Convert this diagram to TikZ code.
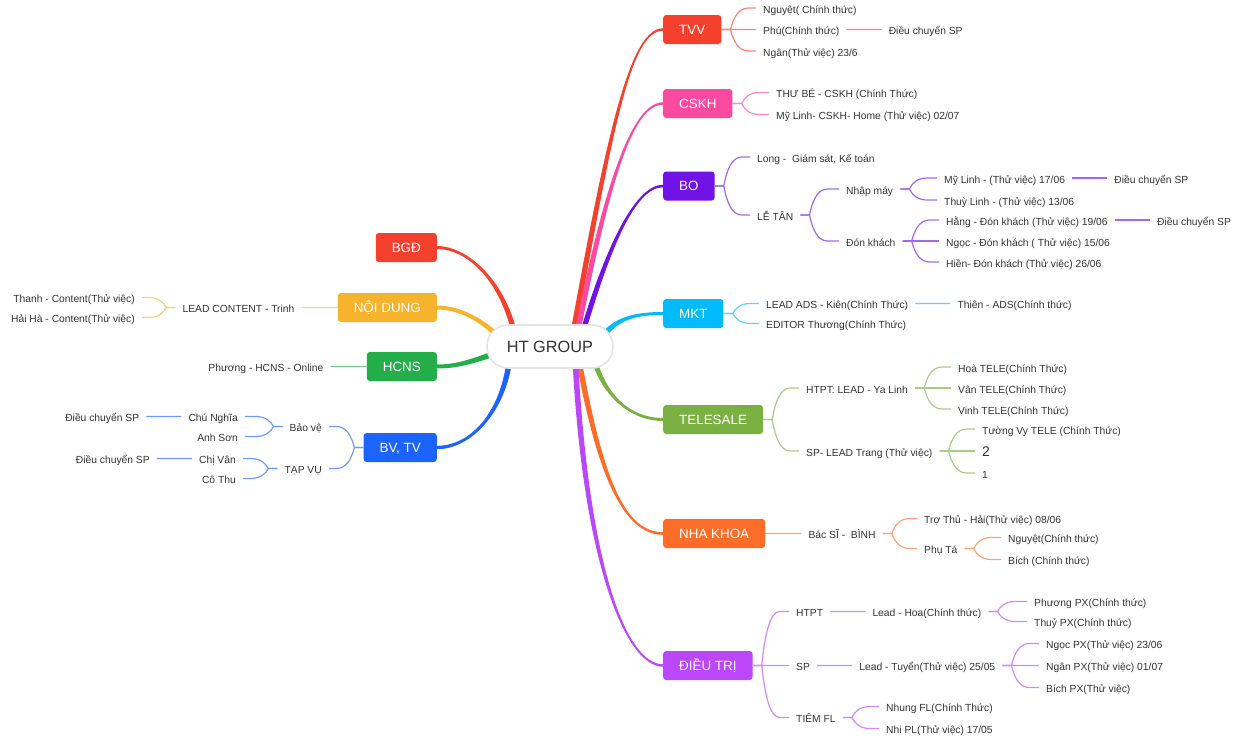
\documentclass[tikz,border=0pt]{standalone}
\usepackage{fontspec}
\setmainfont{Liberation Sans}
\usetikzlibrary{calc,positioning,backgrounds}
\definecolor{inkC} {HTML}{333333}
\definecolor{hubC} {HTML}{E4E4E4}
\definecolor{tvvC} {HTML}{F6402E}
\definecolor{cskhC}{HTML}{FC4AA0}
\definecolor{boC}  {HTML}{7113E6}
\definecolor{mktC} {HTML}{00BBFE}
\definecolor{teleC}{HTML}{7BB043}
\definecolor{nhaC} {HTML}{FD6D28}
\definecolor{dtC}  {HTML}{BB46FA}
\definecolor{bgdC} {HTML}{F6402E}
\definecolor{ndC}  {HTML}{F7B32C}
\definecolor{hcC}  {HTML}{24AE4A}
\definecolor{bvC}  {HTML}{1D63FF}
\tikzset{
  hubNode/.style={fill=white,draw=hubC,line width=1.6pt,rounded corners=21pt,
                  minimum width=126pt,minimum height=43pt,inner sep=0pt,
                  text height=11.7pt,text depth=0pt,
                  font=\fontsize{16.3}{18}\selectfont,text=inkC},
  headBox/.style={fill=#1,rounded corners=3pt,minimum height=29pt,
                  inner xsep=16pt,inner ysep=0pt,text height=9.6pt,text depth=0pt,
                  font=\fontsize{13.4}{15}\selectfont,text=white},
  leaf/.style={inner xsep=7pt,inner ysep=0pt,text height=10pt,text depth=0pt,
               font=\fontsize{10.3}{12}\selectfont,text=inkC},
  twigLine/.style={draw=#1!64,line width=1.2pt},
}
% tapered main branch: colour, start, start control, end control, end,
% half-width vector at start, half-width at end
\newcommand{\trunk}[7]{%
  \fill[#1] ($(#2)+(#6)$) .. controls ($(#2)+(#3)+(#6)$) and ($(#5)+(#4)+(0,-#7)$) .. ($(#5)+(0,-#7)$)
    -- ($(#5)+(0,#7)$) .. controls ($(#5)+(#4)+(0,#7)$) and ($(#2)+(#3)-(#6)$) .. ($(#2)-(#6)$) -- cycle;
}
% sub-branch growing right / left: colour, parent, child
\newcommand{\twig}[3]{%
  \path ([xshift=9pt]#2.east) coordinate (tf) ([xshift=27pt]#2.east) coordinate (tg);
  \draw[twigLine=#1] (#2.east) -- (tf)
    .. controls ($(tf)!.55!(tf |- #3.west)+(3,0)$) and ($(tg |- #3.west)+(-10,0)$) .. (tg |- #3.west)
    -- (#3.west);
}
\newcommand{\twigL}[3]{%
  \path ([xshift=-9pt]#2.west) coordinate (tf) ([xshift=-27pt]#2.west) coordinate (tg);
  \draw[twigLine=#1] (#2.west) -- (tf)
    .. controls ($(tf)!.55!(tf |- #3.east)+(-3,0)$) and ($(tg |- #3.east)+(10,0)$) .. (tg |- #3.east)
    -- (#3.east);
}

\begin{document}
\begin{tikzpicture}[x=1pt,y=-1pt]
\useasboundingbox (0,0) rectangle (1240,736);

% Centre and first-level boxes.
\node[hubNode] (hub) at (550,346.5) {HT GROUP};

\node[headBox=tvvC,anchor=west]  (tvv)  at (663,29.5)  {TVV};
\node[headBox=cskhC,anchor=west] (cskh) at (663,103.5) {CSKH};
\node[headBox=boC,anchor=west]   (bo)   at (663,186)   {BO};
\node[headBox=mktC,anchor=west]  (mkt)  at (663,313.5) {MKT};
\node[headBox=teleC,anchor=west] (tele) at (663,419.5) {TELESALE};
\node[headBox=nhaC,anchor=west]  (nha)  at (663,533.5) {NHA KHOA};
\node[headBox=dtC,anchor=west]   (dt)   at (663,665.5) {ĐIỀU TRỊ};

\node[headBox=bgdC,anchor=east] (bgd) at (437,247.5) {BGĐ};
\node[headBox=ndC,anchor=east]  (nd)  at (437,307.5) {NỘI DUNG};
\node[headBox=hcC,anchor=east]  (hc)  at (437,366.5) {HCNS};
\node[headBox=bvC,anchor=east]  (bv)  at (437,447.5) {BV, TV};

% Start points of the main branches, hidden under the centre.
\coordinate (sTvv)  at (571,345);
\coordinate (sCskh) at (575,345);
\coordinate (sBo)   at (579,345);
\coordinate (sMkt)  at (600,340);
\coordinate (sTele) at (592,352);
\coordinate (sNha)  at (578,355);
\coordinate (sDt)   at (575,355);
\coordinate (sBgd)  at (516,340);
\coordinate (sNd)   at (505,345);
\coordinate (sHc)   at (500,352);
\coordinate (sBv)   at (510,355);

\begin{scope}[on background layer]
  \trunk{tvvC} {sTvv} {39,-215}{-33,0}{tvv.west} {-2.8,0}{1.2}
  \trunk{cskhC}{sCskh}{30,-155}{-32,0}{cskh.west}{-2.8,0}{1.2}
  \trunk{boC}  {sBo}  {28,-97} {-28,0}{bo.west}  {-2.8,0}{1.3}
  \trunk{mktC} {sMkt} {15,-22} {-28,0}{mkt.west} {-2.4,-1.5}{1.5}
  \trunk{teleC}{sTele}{10,43}  {-33,0}{tele.west}{2.8,0}{1.5}
  \trunk{nhaC} {sNha} {22,125} {-38,0}{nha.west} {2.8,0}{1.3}
  \trunk{dtC}  {sDt}  {10,205} {-38,0}{dt.west}  {2.8,0}{1.2}
  \trunk{bgdC} {sBgd} {-12,-60}{30,0} {bgd.east} {2.8,0}{1.5}
  \trunk{ndC}  {sNd}  {-10,-15}{30,0} {nd.east}  {2.3,-1.6}{2}
  \trunk{hcC}  {sHc}  {-20,6}  {25,0} {hc.east}  {-0.8,-2.7}{2}
  \trunk{bvC}  {sBv}  {-5,55}  {35,0} {bv.east}  {-2.8,0}{1.7}
\end{scope}

% TVV
\node[leaf,anchor=west] (tvv1) at (756,8)    {Nguyệt( Chính thức)};
\node[leaf,anchor=west] (tvv2) at (756,29.5) {Phú(Chính thức)};
\node[leaf,anchor=west] (tvv3) at (756,51)   {Ngân(Thử việc) 23/6};
\node[leaf,right=35pt of tvv2] (tvv2a) {Điều chuyển SP};

% CSKH
\node[leaf,anchor=west] (cskh1) at (769,92.5)  {THƯ BÉ - CSKH (Chính Thức)};
\node[leaf,anchor=west] (cskh2) at (769,114.5) {Mỹ Linh- CSKH- Home (Thử việc) 02/07};

% BO
\node[leaf,anchor=west] (bo1)   at (750,157) {Long -\ \ Giám sát, Kế toán};
\node[leaf,anchor=west] (bo2)   at (750,215) {LỄ TÂN};
\node[leaf,anchor=west] (bo21)  at (839,189) {Nhập máy};
\node[leaf,anchor=west] (bo22)  at (839,241) {Đón khách};
\node[leaf,anchor=west] (bo211) at (937,178) {Mỹ Linh - (Thử việc) 17/06};
\node[leaf,anchor=west] (bo212) at (937,200) {Thuỳ Linh - (Thử việc) 13/06};
\node[leaf,anchor=west] (bo221) at (939,220) {Hằng - Đón khách (Thử việc) 19/06};
\node[leaf,anchor=west] (bo222) at (939,241) {Ngọc - Đón khách ( Thử việc) 15/06};
\node[leaf,anchor=west] (bo223) at (939,262) {Hiền- Đón khách (Thử việc) 26/06};
\node[leaf,right=35pt of bo211] (bo211a) {Điều chuyển SP};
\node[leaf,right=35pt of bo221] (bo221a) {Điều chuyển SP};

% MKT
\node[leaf,anchor=west] (mkt1) at (759,303.5) {LEAD ADS - Kiên(Chính Thức)};
\node[leaf,anchor=west] (mkt2) at (759,323.5) {EDITOR Thương(Chính Thức)};
\node[leaf,right=35pt of mkt1] (mkt1a) {Thiên - ADS(Chính thức)};

% TELESALE
\node[leaf,anchor=west] (tele1)  at (799,388) {HTPT: LEAD - Ya Linh};
\node[leaf,anchor=west] (tele2)  at (799,451) {SP- LEAD Trang (Thử việc)};
\node[leaf,anchor=west] (tele11) at (951,367) {Hoà TELE(Chính Thức)};
\node[leaf,anchor=west] (tele12) at (951,388) {Vân TELE(Chính Thức)};
\node[leaf,anchor=west] (tele13) at (951,409) {Vinh TELE(Chính Thức)};
\node[leaf,anchor=west] (tele21) at (975,429) {Tường Vy TELE (Chính Thức)};
\node[leaf,anchor=west] (tele22) at (975,451) {\fontsize{14}{16}\selectfont 2};
\node[leaf,anchor=west] (tele23) at (975,473) {1};

% NHA KHOA
\node[leaf,right=36pt of nha] (nha1) {Bác SĨ -\ \ BÌNH};
\node[leaf,anchor=west] (nha11)  at (917,518.5)  {Trợ Thủ - Hải(Thử việc) 08/06};
\node[leaf,anchor=west] (nha12)  at (917,548.5)  {Phụ Tá};
\node[leaf,anchor=west] (nha121) at (1001,537.5) {Nguyệt(Chính thức)};
\node[leaf,anchor=west] (nha122) at (1001,559.5) {Bích (Chính thức)};

% ĐIỀU TRỊ
\node[leaf,anchor=west] (dt1) at (789,611.5) {HTPT};
\node[leaf,anchor=west] (dt2) at (789,665.5) {SP};
\node[leaf,anchor=west] (dt3) at (789,717.5) {TIÊM FL};
\node[leaf,right=35pt of dt1] (dt1a) {Lead - Hoa(Chính thức)};
\node[leaf,right=35pt of dt2] (dt2a) {Lead - Tuyển(Thử việc) 25/05};
\node[leaf,anchor=west] (dt1a1) at (1027,601.5) {Phương PX(Chính thức)};
\node[leaf,anchor=west] (dt1a2) at (1027,621.5) {Thuỷ PX(Chính thức)};
\node[leaf,anchor=west] (dt2a1) at (1039,643.5) {Ngọc PX(Thử việc) 23/06};
\node[leaf,anchor=west] (dt2a2) at (1039,665.5) {Ngân PX(Thử việc) 01/07};
\node[leaf,anchor=west] (dt2a3) at (1039,687.5) {Bích PX(Thử việc)};
\node[leaf,anchor=west] (dt31)  at (879,706.5)  {Nhung FL(Chính Thức)};
\node[leaf,anchor=west] (dt32)  at (879,728.5)  {Nhi PL(Thử việc) 17/05};

% Left side
\node[leaf,left=36pt of nd] (nd1) {LEAD CONTENT - Trinh};
\node[leaf,anchor=east] (nd11) at (142,297.5) {Thanh - Content(Thử việc)};
\node[leaf,anchor=east] (nd12) at (142,317.5) {Hải Hà - Content(Thử việc)};
\node[leaf,left=36pt of hc] (hc1) {Phương - HCNS - Online};
\node[leaf,anchor=east] (bv1)  at (329,426.5) {Bảo vệ};
\node[leaf,anchor=east] (bv2)  at (329,468.5) {TẠP VỤ};
\node[leaf,anchor=east] (bv11) at (245,416.5) {Chú Nghĩa};
\node[leaf,anchor=east] (bv12) at (245,436.5) {Anh Sơn};
\node[leaf,anchor=east] (bv21) at (243,458.5) {Chị Vân};
\node[leaf,anchor=east] (bv22) at (243,478.5) {Cô Thu};
\node[leaf,left=35pt of bv11] (bv11a) {Điều chuyển SP};
\node[leaf,left=35pt of bv21] (bv21a) {Điều chuyển SP};

% Sub-branch connectors.
\foreach \c in {tvv1,tvv2,tvv3} {\twig{tvvC}{tvv}{\c}}
\twig{tvvC}{tvv2}{tvv2a}
\foreach \c in {cskh1,cskh2} {\twig{cskhC}{cskh}{\c}}
\foreach \c in {bo1,bo2} {\twig{boC}{bo}{\c}}
\foreach \c in {bo21,bo22} {\twig{boC}{bo2}{\c}}
\foreach \c in {bo211,bo212} {\twig{boC}{bo21}{\c}}
\foreach \c in {bo221,bo222,bo223} {\twig{boC}{bo22}{\c}}
\twig{boC}{bo211}{bo211a}
\twig{boC}{bo221}{bo221a}
\foreach \c in {mkt1,mkt2} {\twig{mktC}{mkt}{\c}}
\twig{mktC}{mkt1}{mkt1a}
\foreach \c in {tele1,tele2} {\twig{teleC}{tele}{\c}}
\foreach \c in {tele11,tele12,tele13} {\twig{teleC}{tele1}{\c}}
\foreach \c in {tele21,tele22,tele23} {\twig{teleC}{tele2}{\c}}
\twig{nhaC}{nha}{nha1}
\foreach \c in {nha11,nha12} {\twig{nhaC}{nha1}{\c}}
\foreach \c in {nha121,nha122} {\twig{nhaC}{nha12}{\c}}
\foreach \c in {dt1,dt2,dt3} {\twig{dtC}{dt}{\c}}
\twig{dtC}{dt1}{dt1a}
\twig{dtC}{dt2}{dt2a}
\foreach \c in {dt1a1,dt1a2} {\twig{dtC}{dt1a}{\c}}
\foreach \c in {dt2a1,dt2a2,dt2a3} {\twig{dtC}{dt2a}{\c}}
\foreach \c in {dt31,dt32} {\twig{dtC}{dt3}{\c}}

\twigL{ndC}{nd}{nd1}
\foreach \c in {nd11,nd12} {\twigL{ndC}{nd1}{\c}}
\twigL{hcC}{hc}{hc1}
\foreach \c in {bv1,bv2} {\twigL{bvC}{bv}{\c}}
\foreach \c in {bv11,bv12} {\twigL{bvC}{bv1}{\c}}
\foreach \c in {bv21,bv22} {\twigL{bvC}{bv2}{\c}}
\twigL{bvC}{bv11}{bv11a}
\twigL{bvC}{bv21}{bv21a}

\end{tikzpicture}
\end{document}
